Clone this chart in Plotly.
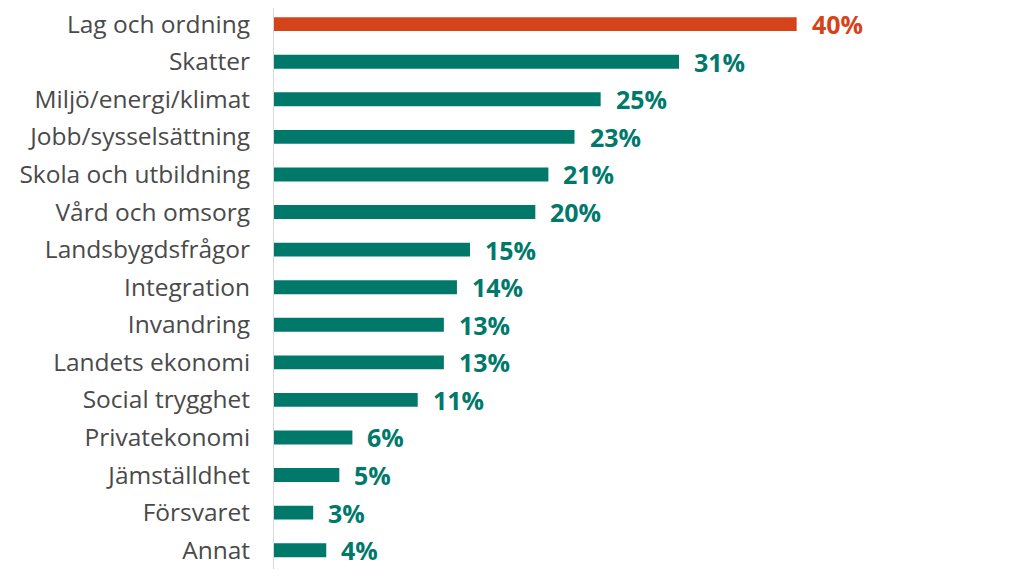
import plotly.graph_objects as go

categories = ['Lag och ordning', 'Skatter', 'Miljö/energi/klimat', 'Jobb/sysselsättning',
              'Skola och utbildning', 'Vård och omsorg', 'Landsbygdsfrågor', 'Integration',
              'Invandring', 'Landets ekonomi', 'Social trygghet', 'Privatekonomi',
              'Jämställdhet', 'Försvaret', 'Annat']
values = [40, 31, 25, 23, 21, 20, 15, 14, 13, 13, 11, 6, 5, 3, 4]

RED = '#D5431A'
TEAL = '#00796B'
colors = [RED] + [TEAL] * (len(values) - 1)

fig = go.Figure()
fig.add_trace(go.Bar(
    x=values, y=categories, orientation='h',
    marker=dict(color=colors, line=dict(width=0)),
    hoverinfo='skip',
))

# värdeetiketter till höger om staplarna
for cat, val, col in zip(categories, values, colors):
    fig.add_annotation(x=val, y=cat, text=f'<b>{val}%</b>', showarrow=False,
                       xanchor='left', xshift=13,
                       font=dict(family='Open Sans, sans-serif', size=25, color=col))

# sidan har 8 px marginal, så figuren görs lite mindre
fig.update_layout(
    width=1016, height=574,
    margin=dict(l=266, r=0, t=0, b=13),
    plot_bgcolor='white', paper_bgcolor='white',
    bargap=0.63, showlegend=False,
    font=dict(family='Open Sans, sans-serif', size=24.5, color='#4A4A4A'),
)
fig.update_xaxes(range=[0, 57.4], visible=False, fixedrange=True)
fig.update_yaxes(range=[14.5, -0.43], showline=True, linecolor='#D9D9D9', linewidth=1,
                 ticks='', ticklabelstandoff=18, showgrid=False, fixedrange=True)

fig.write_html('out.html', config={'displayModeBar': False})
